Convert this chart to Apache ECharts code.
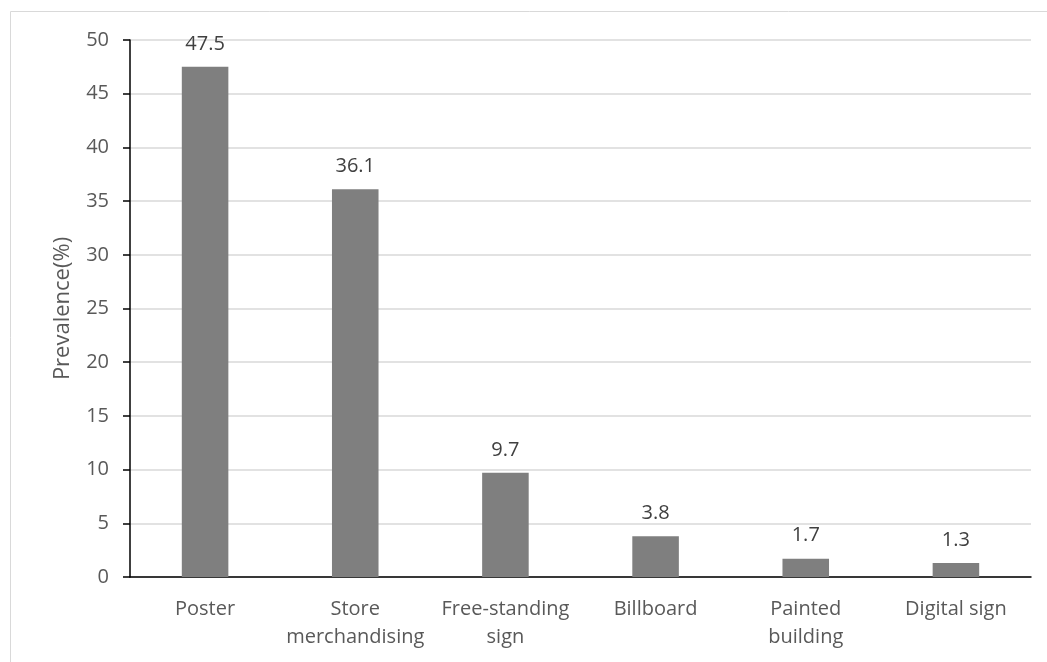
<!DOCTYPE html>
<html>
<head>
    <meta charset="utf-8">
    <title>Prevalence</title>
    <script src="https://cdn.jsdelivr.net/npm/echarts@6/dist/echarts.min.js"></script>
    <style>
        html,body{
            height:100%;
            width:100%;
            margin:0;
            padding:0;
            background:#fff;
        }
        #main{
            width:1047px;
            height:662px;
        }
    </style>
</head>
<body>
<div id="main"></div>
<script>
    // categories
    var categories = ['Poster', 'Store\nmerchandising', 'Free-standing\nsign', 'Billboard', 'Painted\nbuilding', 'Digital sign'];
    // prevalence (%)
    var prevalence = [47.5, 36.1, 9.7, 3.8, 1.7, 1.3];
    // y ticks
    var yMin = 0, yMax = 50, yStep = 5;

    var font = '"Open Sans", sans-serif';
    var txt = '#595959';

    var myChart = echarts.init(document.getElementById('main'));
    var option = {
        animation: false,
        textStyle: {fontFamily: font},
        graphic: [{
            type: 'rect',
            shape: {x: 10.5, y: 11.5, width: 1200, height: 800},
            style: {fill: 'none', stroke: '#d9d9d9', lineWidth: 1},
            silent: true
        }],
        grid: {left: 130, right: 16, top: 40, bottom: 85},
        xAxis: {
            type: 'category',
            data: categories,
            axisLine: {lineStyle: {color: '#000', width: 1.5}},
            axisTick: {alignWithLabel: true, length: 5, lineStyle: {color: '#000', width: 1.5}},
            axisLabel: {color: txt, fontSize: 20, lineHeight: 28, margin: 18, interval: 0, fontFamily: font}
        },
        yAxis: {
            type: 'value',
            min: yMin, max: yMax, interval: yStep,
            name: 'Prevalence(%)',
            nameLocation: 'middle',
            nameGap: 56,
            nameTextStyle: {color: txt, fontSize: 22, fontFamily: font},
            axisLine: {show: true, lineStyle: {color: '#000', width: 1.5}},
            axisTick: {show: true, length: 7, lineStyle: {color: '#000', width: 1.5}},
            axisLabel: {color: txt, fontSize: 20, margin: 21, fontFamily: font},
            splitLine: {lineStyle: {color: '#d9d9d9', width: 1.5}}
        },
        series: [{
            type: 'bar',
            data: prevalence,
            barWidth: '31%',
            itemStyle: {color: '#7f7f7f'},
            label: {
                show: true,
                position: 'top',
                distance: 13,
                color: '#404040',
                fontSize: 20,
                fontFamily: font
            }
        }]
    };
    myChart.setOption(option);
</script>
</body>
</html>
